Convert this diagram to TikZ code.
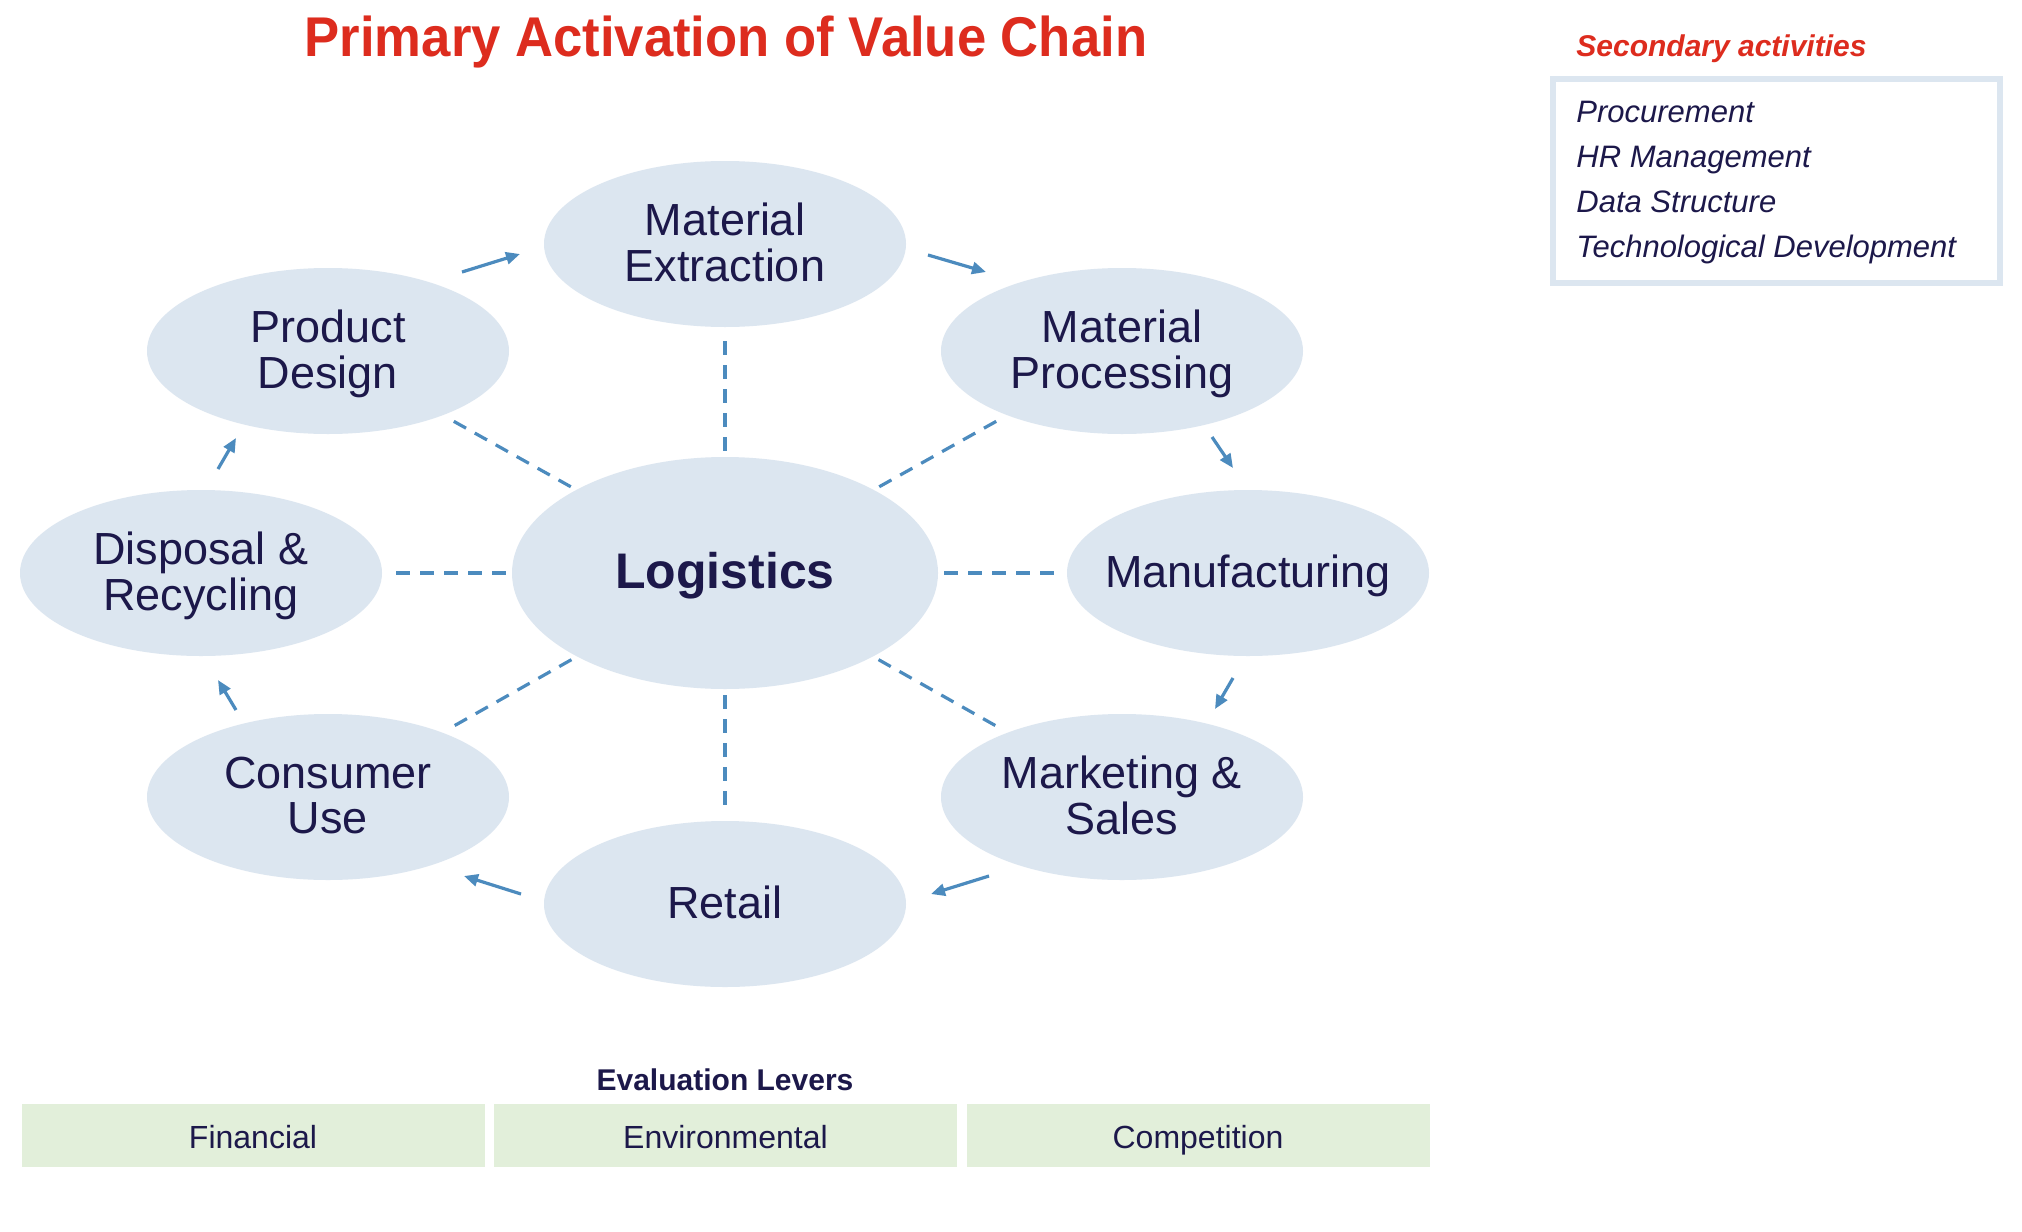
\documentclass[tikz,border=0pt]{standalone}
\usepackage{fontspec}
\setmainfont{Liberation Sans}
\usetikzlibrary{shapes.geometric,arrows.meta}
\definecolor{bub}{RGB}{220,230,240}
\definecolor{navy}{RGB}{28,24,74}
\definecolor{steel}{RGB}{76,139,190}
\definecolor{redt}{RGB}{221,44,30}
\definecolor{lgreen}{RGB}{226,239,218}
\newcommand\zw[1]{\makebox[0pt]{\raisebox{-2.5pt}[\height][\depth]{\begin{tabular}{@{}c@{}}#1\end{tabular}}}}
\begin{document}
\begin{tikzpicture}[x=0.5pt,y=-0.5pt,
  bubble/.style={ellipse, fill=bub, inner sep=0pt, minimum width=181pt, minimum height=83pt,
    text=navy, font=\fontsize{22.5}{22.5}\selectfont},
  hub/.style={bubble, minimum width=213pt, minimum height=116pt, font=\fontsize{25}{25}\selectfont\bfseries},
  flow/.style={draw=steel, line width=1.6pt, -{Triangle[length=7pt,width=6pt]}},
  spoke/.style={draw=steel, line width=1.6pt, dash pattern=on 7pt off 5pt, shorten <=3pt, shorten >=3pt},
  lever/.style={fill=lgreen, inner sep=0pt, minimum width=231.5pt, minimum height=31.5pt,
    text height=15pt, text depth=2pt, text=navy, font=\fontsize{16}{16}\selectfont},
  secitem/.style={anchor=base west, inner sep=0pt, text=navy, font=\fontsize{15.5}{15.5}\selectfont\itshape}
]
\useasboundingbox[fill=white] (0,0) rectangle (2022,1231);

% title
\node[text=redt, font=\fontsize{28}{28}\selectfont\bfseries] (title) at (726,42)
  {\scalebox{0.94}[1]{Primary Activation of Value Chain}};

% bubbles
\node[bubble] (ME) at (725,244) {\zw{Material\\Extraction}};
\node[bubble] (PD) at (328,351) {\zw{Product\\Design}};
\node[bubble] (MP) at (1122,351) {\zw{Material\\Processing}};
\node[hub]    (L)  at (725,573) {\zw{Logistics}};
\node[bubble] (DR) at (201,573) {\zw{Disposal \&\\Recycling}};
\node[bubble] (MF) at (1248,573) {\zw{Manufacturing}};
\node[bubble] (CU) at (328,797) {\zw{Consumer\\Use}};
\node[bubble] (MS) at (1122,797) {\zw{Marketing \&\\Sales}};
\node[bubble] (RT) at (725,904) {\zw{Retail}};

% spokes
\foreach \n in {ME,PD,MP,DR,MF,CU,MS,RT} \draw[spoke] (L) -- (\n);

% cycle arrows
\draw[flow] ([shift={(134,-79)}]PD.center) -- ([shift={(-205,10)}]ME.center);
\draw[flow] ([shift={(203,11)}]ME.center) -- ([shift={(-136,-79)}]MP.center);
\draw[flow] ([shift={(90,86)}]MP.center) -- ([shift={(-15,-105)}]MF.center);
\draw[flow] ([shift={(-15,105)}]MF.center) -- ([shift={(93,-88)}]MS.center);
\draw[flow] ([shift={(-133,79)}]MS.center) -- ([shift={(206,-10)}]RT.center);
\draw[flow] ([shift={(-204,-10)}]RT.center) -- ([shift={(136,79)}]CU.center);
\draw[flow] ([shift={(-92,-87)}]CU.center) -- ([shift={(17,107)}]DR.center);
\draw[flow] ([shift={(17,-104)}]DR.center) -- ([shift={(-92,87)}]PD.center);

% secondary activities
\node[anchor=west, inner sep=0pt, text=redt, font=\fontsize{15}{15}\selectfont\bfseries\itshape]
  (sect) at (1576,49) {Secondary activities};
\draw[draw=bub, line width=3pt] (1553,79) rectangle (2000,283);
\node[secitem] (s1) at (1576,122) {Procurement};
\node[secitem] (s2) at (1576,167) {HR Management};
\node[secitem] (s3) at (1576,212) {Data Structure};
\node[secitem] (s4) at (1576,257) {Technological Development};

% evaluation levers
\node[text=navy, font=\fontsize{15}{15}\selectfont\bfseries] (evt) at (725,1080) {Evaluation Levers};
\node[lever] (fin) at (253,1135.5) {Financial};
\node[lever] (env) at (725.5,1135.5) {Environmental};
\node[lever] (com) at (1198,1135.5) {Competition};
\end{tikzpicture}
\end{document}
